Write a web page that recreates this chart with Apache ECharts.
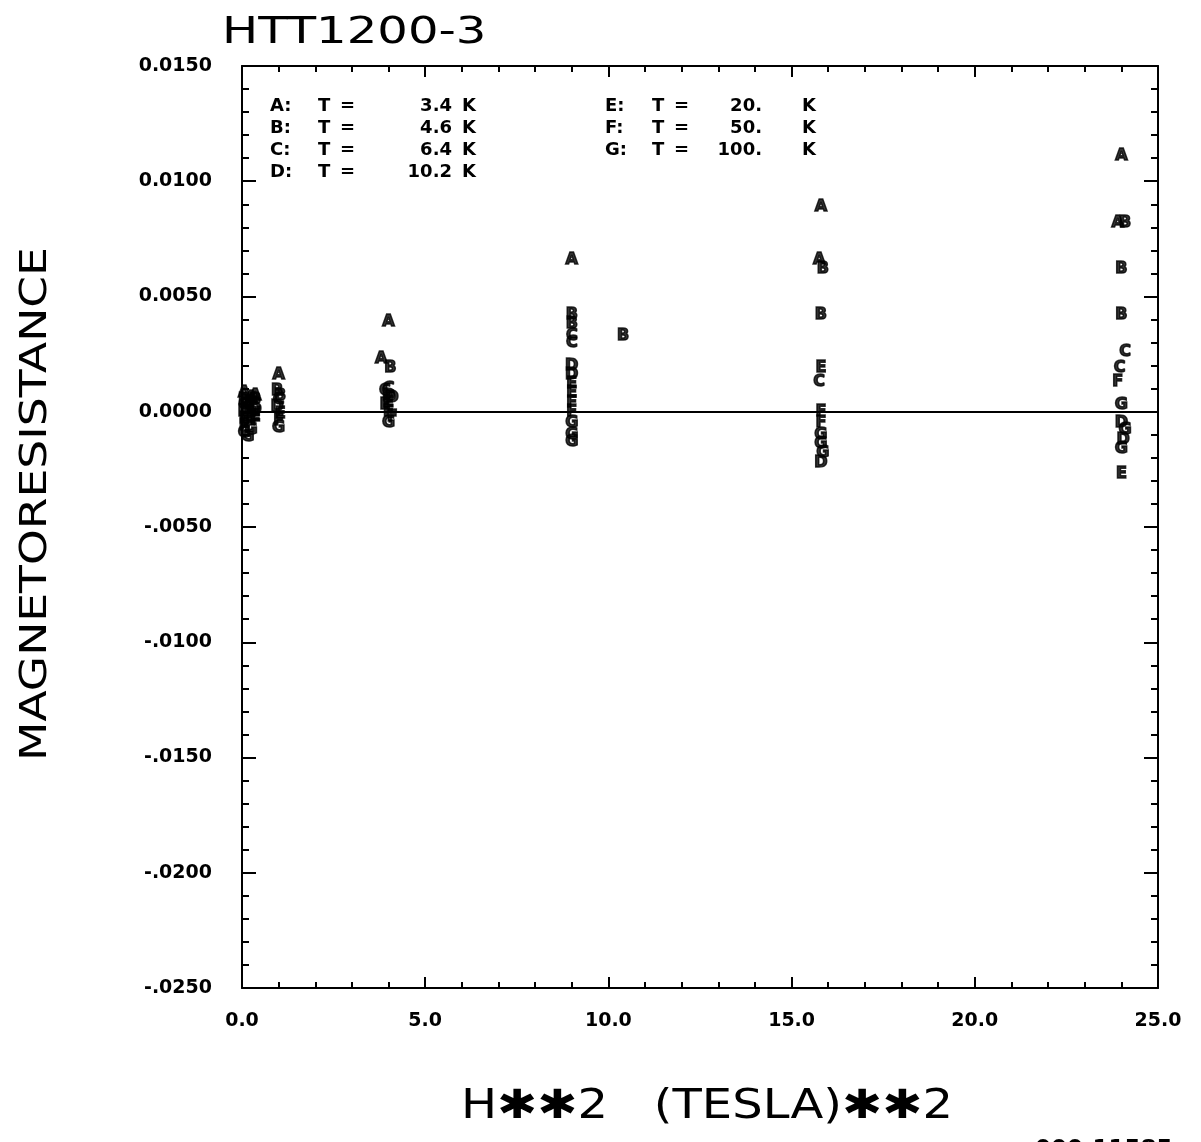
<!DOCTYPE html>
<html>
<head>
<meta charset="utf-8">
<script src="https://cdn.jsdelivr.net/npm/echarts@6/dist/echarts.min.js"></script>
<style>
  html, body { margin: 0; padding: 0; background: #fff; }
  #chart { width: 1201px; height: 1142px; }
</style>
</head>
<body>
<div id="chart"></div>
<script>
// letters used as plot symbols, one per temperature
const letters = ['A', 'B', 'C', 'D', 'E', 'F', 'G']
const temps = ['3.4', '4.6', '6.4', '10.2', '20.', '50.', '100.']

// [H^2 (T^2), magnetoresistance]
const seriesA = [[0.06, 0.0008], [0.25, 0.0006], [0.36, 0.0007], [1.0, 0.0016], [4.0, 0.0039], [3.8, 0.0023],
  [9.0, 0.0066], [15.8, 0.0089], [15.75, 0.0066], [24.0, 0.0111], [23.9, 0.0082]]
const seriesB = [[0.06, 0.0005], [0.16, 0.0004], [0.36, 0.0005], [0.96, 0.0009], [1.04, 0.0007], [4.05, 0.0019],
  [9.0, 0.0042], [9.0, 0.0038], [10.4, 0.0033], [15.85, 0.0062], [15.8, 0.0042],
  [24.1, 0.0082], [24.0, 0.0062], [24.0, 0.0042]]
const seriesC = [[0.06, 0.0003], [0.25, 0.0002], [0.36, 0.0003], [1.0, 0.0005], [4.0, 0.0010], [3.9, 0.0009],
  [9.0, 0.0033], [9.0, 0.0030], [15.75, 0.0013], [24.1, 0.0026], [23.95, 0.0019]]
const seriesD = [[0.06, 0.0000], [0.16, 0.0001], [0.36, 0.0001], [0.96, 0.0002], [4.0, 0.0007], [4.1, 0.0006],
  [9.0, 0.0020], [9.0, 0.0016], [15.8, -0.0022], [24.0, -0.0005], [24.05, -0.0012]]
const seriesE = [[0.06, -0.0003], [0.25, -0.0002], [0.36, -0.0002], [1.04, -0.0001], [4.0, 0.0004], [3.9, 0.0003],
  [9.0, 0.0012], [9.0, 0.0008], [15.8, 0.0019], [24.0, -0.0027]]
const seriesF = [[0.06, -0.0006], [0.16, -0.0005], [0.36, -0.0004], [1.0, -0.0004], [4.0, 0.0000], [4.1, -0.0002],
  [9.0, 0.0004], [9.0, 0.0000], [15.8, 0.0000], [15.8, -0.0005], [23.9, 0.0013]]
const seriesG = [[0.06, -0.0009], [0.16, -0.0011], [0.25, -0.0008], [1.0, -0.0007], [4.0, -0.0005],
  [9.0, -0.0005], [9.0, -0.0010], [9.0, -0.0013], [15.8, -0.0010], [15.8, -0.0014], [15.85, -0.0018],
  [24.0, 0.0003], [24.1, -0.0008], [24.0, -0.0016]]
const allSeries = [seriesA, seriesB, seriesC, seriesD, seriesE, seriesF, seriesG]

// axis range / ticks
const xMin = 0, xMax = 25, xStep = 5
const yMin = -0.025, yMax = 0.015, yStep = 0.005

const chart = echarts.init(document.getElementById('chart'))

const fmtY = v => {
  if (Math.abs(v) < 1e-9) return '0.0000'
  return v > 0 ? v.toFixed(4) : '-' + Math.abs(v).toFixed(4).slice(1)
}

const axisLine = { onZero: false, lineStyle: { color: '#000', width: 2 } }
const tickX = { show: true, inside: true, length: 11, lineStyle: { color: '#000', width: 2 } }
const minorX = { show: true, splitNumber: 5, length: 6, lineStyle: { color: '#000', width: 2 } }
const tickY = { show: true, inside: true, length: 14, lineStyle: { color: '#000', width: 2 } }
const minorY = { show: true, splitNumber: 5, length: 7, lineStyle: { color: '#000', width: 2 } }
const labelFont = { color: '#000', fontFamily: 'DejaVu Sans', fontWeight: 'bold', fontSize: 19 }

const series = allSeries.map((d, i) => ({
  name: letters[i],
  type: 'scatter',
  data: d,
  symbol: 'circle',
  symbolSize: 1,
  itemStyle: { color: 'rgba(0,0,0,0)' },
  label: {
    show: true,
    position: 'inside',
    formatter: letters[i],
    color: '#000',
    fontFamily: 'DejaVu Sans',
    fontWeight: 'bold',
    fontSize: 16,
    textBorderColor: '#000',
    textBorderWidth: 1.5
  },
  z: 3
}))
// y = 0 reference line
series[0].markLine = {
  silent: true,
  symbol: ['none', 'none'],
  label: { show: false },
  lineStyle: { color: '#000', width: 2, type: 'solid' },
  data: [{ yAxis: 0 }]
}

// in-plot key
const key = []
letters.forEach((l, i) => {
  const col = i < 4 ? 0 : 1
  const row = i < 4 ? i : i - 4
  const y = 106 + row * 22
  const font = 'bold 18px "DejaVu Sans"'
  const xs = col === 0 ? [270, 318, 340, 452, 462] : [605, 652, 674, 762, 802]
  key.push({ type: 'text', x: xs[0], y: y, style: { text: l + ':', font: font, verticalAlign: 'middle', fill: '#000' } })
  key.push({ type: 'text', x: xs[1], y: y, style: { text: 'T', font: font, verticalAlign: 'middle', fill: '#000' } })
  key.push({ type: 'text', x: xs[2], y: y, style: { text: '=', font: font, verticalAlign: 'middle', fill: '#000' } })
  key.push({ type: 'text', x: xs[3], y: y, style: { text: temps[i], font: font, align: 'right', verticalAlign: 'middle', fill: '#000' } })
  key.push({ type: 'text', x: xs[4], y: y, style: { text: 'K', font: font, verticalAlign: 'middle', fill: '#000' } })
})

const option = {
  backgroundColor: '#fff',
  animation: false,
  grid: { left: 242, right: 43, top: 66, bottom: 154, containLabel: false },
  xAxis: [
    {
      type: 'value', min: xMin, max: xMax, interval: xStep, position: 'bottom',
      axisLine: axisLine, axisTick: tickX, minorTick: minorX,
      splitLine: { show: false },
      axisLabel: Object.assign({ margin: 24, formatter: v => v.toFixed(1) }, labelFont)
    },
    {
      type: 'value', min: xMin, max: xMax, interval: xStep, position: 'top',
      axisLine: axisLine, axisTick: tickX, minorTick: minorX,
      splitLine: { show: false }, axisLabel: { show: false }
    }
  ],
  yAxis: [
    {
      type: 'value', min: yMin, max: yMax, interval: yStep, position: 'left',
      axisLine: axisLine, axisTick: tickY, minorTick: minorY,
      splitLine: { show: false },
      axisLabel: Object.assign({ margin: 30, formatter: fmtY }, labelFont)
    },
    {
      type: 'value', min: yMin, max: yMax, interval: yStep, position: 'right',
      axisLine: axisLine, axisTick: tickY, minorTick: minorY,
      splitLine: { show: false }, axisLabel: { show: false }
    }
  ],
  graphic: [
    { type: 'text', x: 222, y: 15, scaleX: 1.3, style: { text: 'HTT1200-3', font: '37px "DejaVu Sans"', fill: '#000' } },
    { type: 'text', x: 36, y: 504, rotation: Math.PI / 2, scaleX: 1.2,
      style: { text: 'MAGNETORESISTANCE', font: '38px "DejaVu Sans"', align: 'center', verticalAlign: 'middle', fill: '#000' } },
    { type: 'text', x: 707, y: 1108, scaleX: 1.2,
      style: { text: 'H✱✱2   (TESLA)✱✱2', font: '40px "DejaVu Sans"', align: 'center', verticalAlign: 'middle', fill: '#000' } },
    { type: 'text', x: 1035, y: 1139, style: { text: '000-11585', font: 'bold 23px "DejaVu Sans"', fill: '#000' } }
  ].concat(key),
  series: series
}

chart.setOption(option)
</script>
</body>
</html>
